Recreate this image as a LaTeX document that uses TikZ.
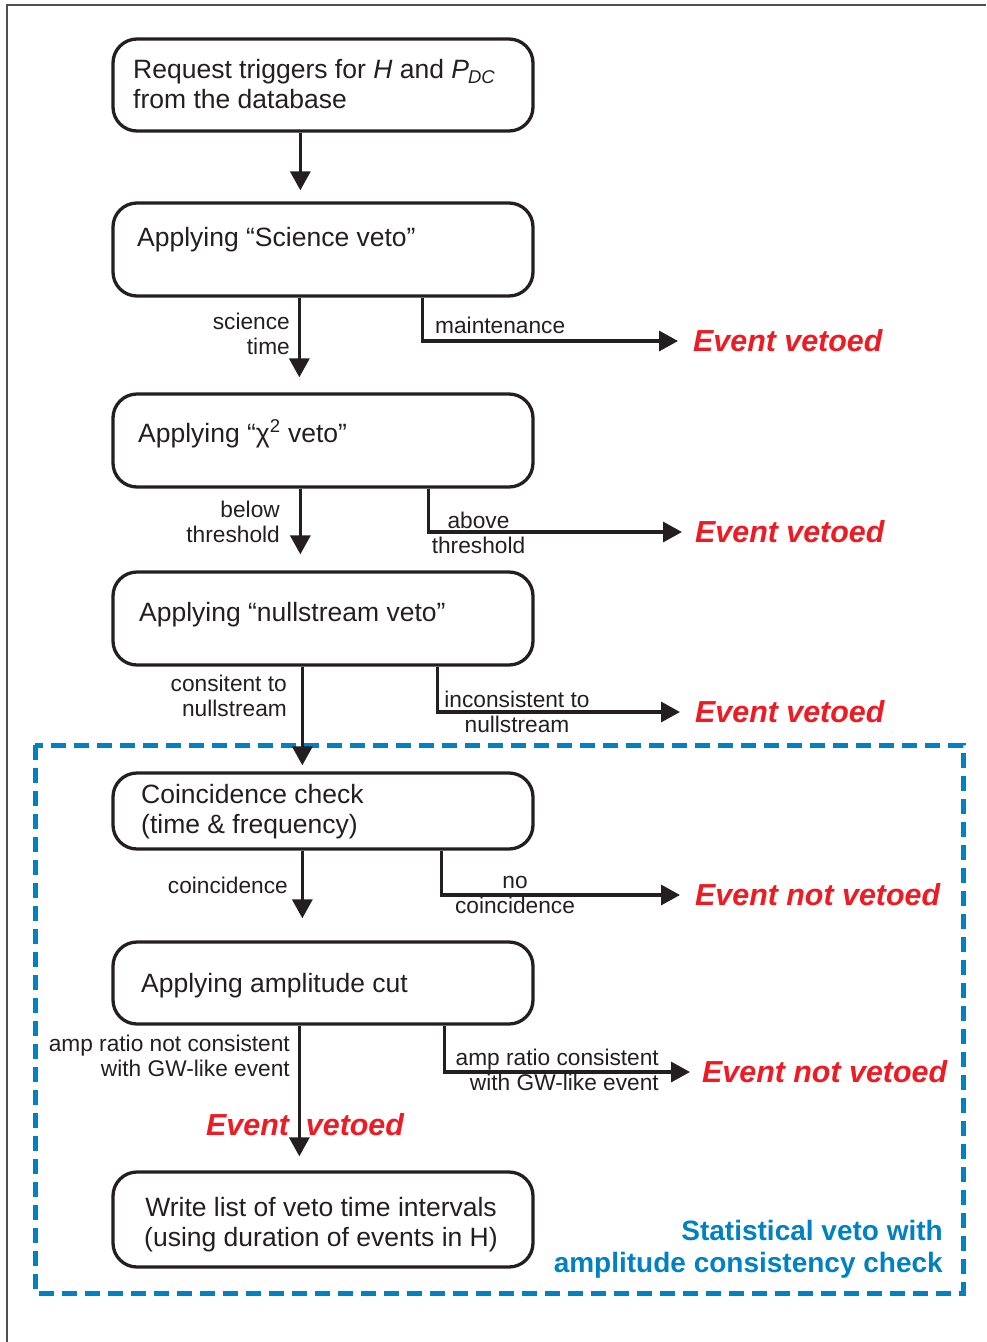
\documentclass[tikz,border=0pt]{standalone}
\usepackage{fontspec}
\setmainfont{Liberation Sans}
\usetikzlibrary{arrows.meta,calc}
\definecolor{ink}{RGB}{35,31,32}
\definecolor{evred}{RGB}{237,28,36}
\definecolor{vblue}{RGB}{0,129,193}
\definecolor{framegray}{RGB}{80,80,80}
\begin{document}
\begin{tikzpicture}[x=1pt,y=-1pt,
  box/.style={draw=ink, line width=3.3pt, rounded corners=24pt, minimum width=420pt, inner sep=0pt},
  btext/.style={font=\fontsize{26.5}{30}\selectfont, inner sep=0pt, text=ink},
  lbl/.style={font=\fontsize{22.7}{25}\selectfont, inner sep=0pt, text=ink},
  ev/.style={font=\fontsize{30.4}{32}\selectfont\bfseries\itshape, text=evred, inner sep=0pt},
  arr/.style={line width=3.3pt, draw=ink, -{Triangle[length=19pt,width=20pt]}},
  bluetext/.style={font=\fontsize{28}{32}\selectfont\bfseries, text=vblue, inner sep=0pt, align=right},
]
\useasboundingbox (0,0) rectangle (986,1342);
\draw[framegray, line width=1.5pt] (7,1342) -- (7,5) -- (986,5);

% statistical veto region
\draw[vblue, line width=5pt, dash pattern=on 15pt off 8pt] (35,745) rectangle (963,1293);
\node[bluetext, anchor=base east] (stat) at (943,1272) {Statistical veto with\\amplitude consistency check};

% boxes
\node[box, minimum height=92pt] (b1) at (323,85) {};
\node[box, minimum height=93pt] (b2) at (323,249.5) {};
\node[box, minimum height=93pt] (b3) at (323,440.5) {};
\node[box, minimum height=93pt] (b4) at (323,618.5) {};
\node[box, minimum height=76pt] (b5) at (323,811) {};
\node[box, minimum height=82pt] (b6) at (323,983) {};
\node[box, minimum height=95pt] (b7) at (323,1219.5) {};

% box texts
\node[btext, anchor=base west, align=left] (t1) at (133,108) {Request triggers for \textit{H} and \textit{P}\kern-1pt\raisebox{-5pt}{\fontsize{18.5}{18.5}\selectfont\textit{DC}}\\from the database};
\node[btext, anchor=base west] (t2) at (137,246) {Applying “Science veto”};
\node[btext, anchor=base west] (t3) at (138,442) {Applying “χ\textsuperscript{2} veto”};
\node[btext, anchor=base west] (t4) at (139,621) {Applying “nullstream veto”};
\node[btext, anchor=base west, align=left] (t5) at (141,833) {Coincidence check\\(time \& frequency)};
\node[btext, anchor=base west] (t6) at (141,992) {Applying amplitude cut};
\node[btext, anchor=base, align=center] (t7) at (321,1246) {Write list of veto time intervals\\(using duration of events in H)};

% outcome texts
\node[ev, anchor=west] (ev1) at (693,341) {Event vetoed};
\node[ev, anchor=west] (ev2) at (695,532) {Event vetoed};
\node[ev, anchor=west] (ev3) at (695,712) {Event vetoed};
\node[ev, anchor=west] (ev4) at (695,895) {Event not vetoed};
\node[ev, anchor=west] (ev5) at (702,1072) {Event not vetoed};
\node[ev, anchor=base west] (ev6) at (206,1135) {Event\hspace{17pt}vetoed};

% main flow arrows
\draw[arr, shorten >=11pt] ($(b1.south west)+(189,0)$) -- ($(b2.north west)+(189,0)$);
\draw[arr, shorten >=15pt] ($(b2.south west)+(188,0)$) -- ($(b3.north west)+(188,0)$);
\draw[arr, shorten >=16pt] ($(b3.south west)+(189,0)$) -- ($(b4.north west)+(189,0)$);
\draw[arr, shorten >=6pt] ($(b4.south west)+(191,0)$) -- ($(b5.north west)+(191,0)$);
\draw[arr, shorten >=22pt] ($(b5.south west)+(191,0)$) -- ($(b6.north west)+(191,0)$);
\draw[arr, shorten >=14pt] ($(b6.south west)+(188,0)$) -- ($(b7.north west)+(188,0)$);

% branch arrows
\draw[arr, shorten >=15pt] ($(b2.south west)+(311,0)$) |- (ev1.west);
\draw[arr, shorten >=13pt] ($(b3.south west)+(317,0)$) |- (ev2.west);
\draw[arr, shorten >=15pt] ($(b4.south west)+(326,0)$) |- (ev3.west);
\draw[arr, shorten >=15pt] ($(b5.south west)+(330,0)$) |- (ev4.west);
\draw[arr, shorten >=12pt] ($(b6.south west)+(333,0)$) |- (ev5.west);

% connector labels
\node[lbl, anchor=base east, align=right] (l1) at (290,354) {science\\time};
\node[lbl, anchor=base west] (l2) at (435,333) {maintenance};
\node[lbl, anchor=base east, align=right] (l3) at (280,542) {below\\threshold};
\node[lbl, anchor=base, align=center] (l4) at (478.5,553) {above\\threshold};
\node[lbl, anchor=base east, align=right] (l5) at (287,716) {consitent to\\nullstream};
\node[lbl, anchor=base, align=center] (l6) at (517,732) {inconsistent to\\nullstream};
\node[lbl, anchor=base east] (l7) at (288,893) {coincidence};
\node[lbl, anchor=base, align=center] (l8) at (515,913) {no\\coincidence};
\node[lbl, anchor=base east, align=right] (l9) at (290,1076) {amp ratio not consistent\\with GW-like event};
\node[lbl, anchor=base east, align=right] (l10) at (659,1090) {amp ratio consistent\\with GW-like event};
\end{tikzpicture}
\end{document}
